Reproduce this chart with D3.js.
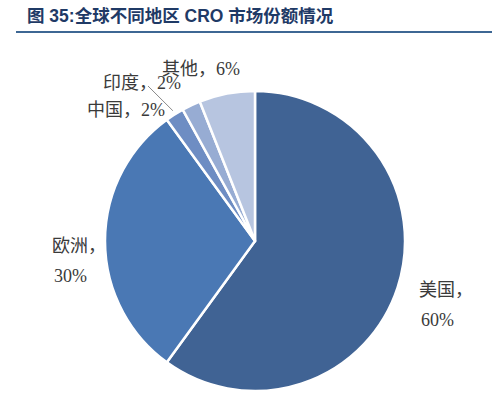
<!DOCTYPE html>
<html>
<head>
<meta charset="utf-8">
<script src="https://cdn.jsdelivr.net/npm/d3@7"></script>
<style>
  body { margin: 0; background: #fff; }
  svg { display: block; }
</style>
</head>
<body>
<div id="chart"></div>
<script>
// region shares of the global CRO market (%)
const regions = ["美国", "欧洲", "中国", "印度", "其他"];
const shares = [60, 30, 2, 2, 6];
const colors = ["#406394", "#4a78b4", "#6e8dc3", "#97acd3", "#b7c5e0"];

const width = 501, height = 394;
const cx = 255, cy = 241, radius = 150;

// where each label sits, relative to the pie centre (moved by hand like in Excel)
const labelPos = {
  "美国": {x: 164, y: 55, lines: 2},
  "欧洲": {x: -203, y: 11, lines: 2},
  "中国": {x: -168, y: -125, lines: 1},
  "印度": {x: -152, y: -152, lines: 1},
  "其他": {x: -93, y: -166, lines: 1}
};

const svg = d3.select("#chart").append("svg")
  .attr("width", width)
  .attr("height", height);

// title + rule
svg.append("text")
  .attr("x", 27)
  .attr("y", 22)
  .attr("font-family", "Arial, 'Liberation Sans', 'Noto Sans CJK SC', sans-serif")
  .attr("font-weight", "bold")
  .attr("font-size", 17.5)
  .attr("fill", "#1f3a66")
  .text("图 35:全球不同地区 CRO 市场份额情况");

svg.append("line")
  .attr("x1", 16).attr("x2", 492)
  .attr("y1", 32).attr("y2", 32)
  .attr("stroke", "#3d6794")
  .attr("stroke-width", 2);

const data = regions.map((r, i) => ({name: r, value: shares[i], color: colors[i]}));

const pie = d3.pie()
  .value(d => d.value)
  .sort(null);

const arc = d3.arc()
  .innerRadius(0)
  .outerRadius(radius);

const arcs = pie(data);

const g = svg.append("g")
  .attr("transform", `translate(${cx},${cy})`);

g.selectAll("path.slice")
  .data(arcs)
  .enter().append("path")
  .attr("class", "slice")
  .attr("d", arc)
  .attr("fill", d => d.data.color)
  .attr("stroke", "#fff")
  .attr("stroke-width", 2.5)
  .attr("stroke-linejoin", "round");

// leader line for the India label
const india = arcs[3];
const leadAng = india.startAngle - 0.06;
const leadR = radius + 4;
const lp = labelPos["印度"];
g.append("line")
  .attr("x1", lp.x + 45).attr("y1", lp.y - 3)
  .attr("x2", leadR * Math.sin(leadAng))
  .attr("y2", -leadR * Math.cos(leadAng))
  .attr("stroke", "#8a8a8a")
  .attr("stroke-width", 1);

const labels = g.selectAll("text.lbl")
  .data(arcs)
  .enter().append("text")
  .attr("class", "lbl")
  .attr("font-family", "'Liberation Serif', 'Noto Sans CJK SC', serif")
  .attr("font-size", 18)
  .attr("fill", "#3a3a3a");

labels.each(function(d) {
  const p = labelPos[d.data.name];
  const t = d3.select(this);
  if (p.lines === 2) {
    t.append("tspan").attr("x", p.x).attr("y", p.y).text(d.data.name + "，");
    t.append("tspan").attr("x", p.x + 2).attr("y", p.y + 30).text(d.data.value + "%");
  } else {
    t.append("tspan").attr("x", p.x).attr("y", p.y).text(d.data.name + "，" + d.data.value + "%");
  }
});
</script>
</body>
</html>
